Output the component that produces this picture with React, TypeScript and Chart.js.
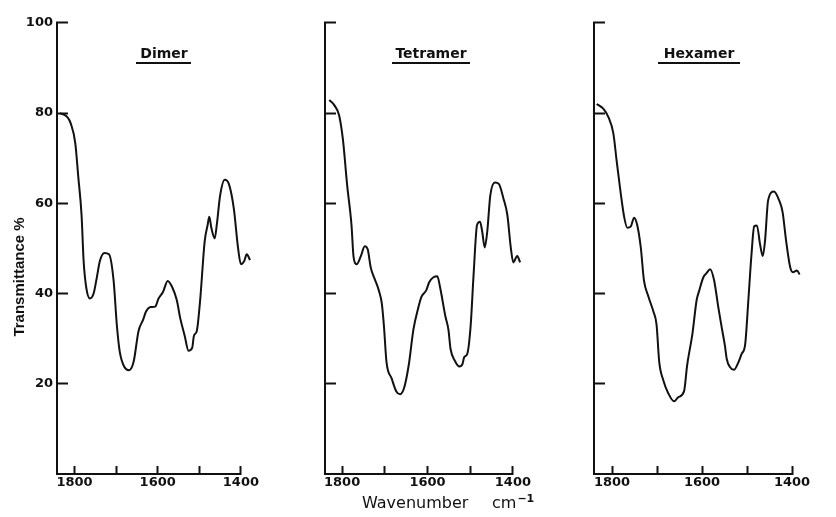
import React, { useEffect, useRef } from "react";
import { Chart, registerables } from "chart.js";

Chart.register(...registerables);

// ---- data ----
const WAVENUMBER_TICKS = [1800, 1700, 1600, 1500, 1400];
const WAVENUMBER_LABELS = [1800, 1600, 1400];
const TRANSMITTANCE_TICKS = [20, 40, 60, 80, 100];
const TRANSMITTANCE_LABELS = [20, 40, 60, 80, 100];

const dimerWavenumber = [1835, 1817, 1809, 1798, 1791, 1783, 1778, 1772, 1763, 1754, 1746, 1739, 1728, 1717, 1706, 1698, 1691, 1680, 1669, 1658, 1646, 1635, 1628, 1617, 1606, 1598, 1587, 1576, 1565, 1554, 1546, 1535, 1526, 1517, 1513, 1506, 1498, 1487, 1480, 1476, 1471, 1463, 1458, 1450, 1439, 1429, 1417, 1407, 1400, 1392, 1386, 1378];
const dimerTransmittance = [80, 79.1, 77.7, 73.3, 66, 57.4, 47.2, 41.5, 38.9, 40, 43.7, 47.2, 49, 48.7, 42.9, 32.8, 27, 23.7, 23, 24.8, 31.7, 34.2, 36, 37, 37.1, 38.9, 40.4, 42.8, 41.4, 38.5, 34.6, 30.6, 27.3, 28, 30.6, 31.7, 38.5, 51.6, 55.2, 57, 54.5, 52.2, 55.2, 61.7, 65.2, 64.3, 58.8, 50.2, 46.5, 47.2, 48.7, 47.4];

const tetramerWavenumber = [1830, 1818, 1807, 1798, 1788, 1778, 1773, 1766, 1756, 1747, 1740, 1733, 1724, 1714, 1707, 1702, 1696, 1684, 1673, 1664, 1655, 1644, 1633, 1622, 1614, 1603, 1596, 1586, 1577, 1570, 1558, 1551, 1546, 1536, 1525, 1518, 1514, 1507, 1499, 1492, 1484, 1477, 1472, 1466, 1460, 1453, 1442, 1433, 1422, 1413, 1405, 1399, 1390, 1383];
const tetramerTransmittance = [82.9, 81.7, 79.5, 74.1, 63.9, 55.2, 48, 46.5, 48.3, 50.5, 49.8, 45.8, 43.3, 40.7, 37.8, 32.8, 24.8, 21.2, 18.3, 17.7, 19, 24.1, 32, 36.7, 39.3, 40.7, 42.5, 43.6, 43.8, 41.1, 34.9, 32, 27.7, 25.1, 23.8, 24.4, 25.9, 26.6, 32.8, 44.3, 55.2, 55.9, 53.8, 50.2, 53.8, 61.7, 64.6, 64.3, 61, 57.4, 50.2, 46.9, 48.3, 46.9];

const hexamerWavenumber = [1834, 1819, 1808, 1797, 1790, 1781, 1773, 1766, 1758, 1751, 1744, 1736, 1729, 1719, 1708, 1701, 1695, 1686, 1675, 1662, 1653, 1640, 1633, 1621, 1612, 1606, 1597, 1590, 1582, 1573, 1564, 1556, 1549, 1545, 1538, 1529, 1519, 1512, 1504, 1497, 1490, 1484, 1478, 1471, 1465, 1460, 1453, 1440, 1430, 1421, 1413, 1404, 1398, 1389, 1383];
const hexamerTransmittance = [82, 80.9, 79.1, 75.5, 69.7, 62.5, 57, 54.6, 54.9, 56.8, 55.2, 50.2, 42.9, 39.3, 36, 33.1, 24.8, 20.8, 17.9, 16.1, 17, 18.3, 24.1, 31.3, 38.5, 40.7, 43.6, 44.5, 45.4, 42.9, 37.1, 32.4, 28.4, 25.5, 23.7, 23.1, 24.8, 26.6, 28.8, 38.5, 48.7, 54.9, 55.1, 50.9, 48.3, 51.6, 60.7, 62.6, 61, 58.1, 51.6, 45.8, 44.7, 45.1, 44.2];

const Y_TITLE = "Transmittance %";
const X_TITLE = "Wavenumber";
const X_UNIT = "cm";
const X_UNIT_SUP = "\u22121";

// ---- layout ----
const H = 517;
const INK = "#111111";

type PanelDef = {
  name: string;
  wn: number[];
  tr: number[];
  left: number;
  width: number;
  xMax: number;
  titleX: number;
  ulFrom: number;
  ulTo: number;
  showY: boolean;
  yTitle: boolean;
  xTitle: boolean;
};

const PANELS: PanelDef[] = [
  { name: "Dimer", wn: dimerWavenumber, tr: dimerTransmittance, left: 0, width: 268, xMax: 1842, titleX: 164, ulFrom: 136, ulTo: 191, showY: true, yTitle: true, xTitle: false },
  { name: "Tetramer", wn: tetramerWavenumber, tr: tetramerTransmittance, left: 268, width: 272, xMax: 1840, titleX: 431, ulFrom: 392, ulTo: 470, showY: false, yTitle: false, xTitle: true },
  { name: "Hexamer", wn: hexamerWavenumber, tr: hexamerTransmittance, left: 537, width: 299, xMax: 1840, titleX: 699, ulFrom: 658, ulTo: 740, showY: false, yTitle: false, xTitle: false },
];

const Y_AXIS_W = 57;
const X_AXIS_H = 43;
const TOP_PAD = 14;

function Panel({ p }: { p: PanelDef }) {
  const ref = useRef<HTMLCanvasElement>(null);
  useEffect(() => {
    const canvas = ref.current!;
    const rightEdge: Record<string, number> = { Dimer: 256, Tetramer: 523, Hexamer: 792 };
    const rightPad = p.left + p.width - rightEdge[p.name];

    const textPlugin = {
      id: "panelText",
      afterDraw(chart: any) {
        const ctx = chart.ctx as CanvasRenderingContext2D;
        const ox = p.left;
        ctx.save();
        ctx.fillStyle = INK;
        ctx.strokeStyle = INK;
        // panel title with underline
        ctx.font = "bold 14px 'DejaVu Sans'";
        ctx.textAlign = "center";
        ctx.textBaseline = "alphabetic";
        ctx.fillText(p.name, p.titleX - ox, 58);
        ctx.lineWidth = 2;
        ctx.beginPath();
        ctx.moveTo(p.ulFrom - ox, 63);
        ctx.lineTo(p.ulTo - ox, 63);
        ctx.stroke();
        if (p.yTitle) {
          ctx.save();
          ctx.translate(20 - ox, 277);
          ctx.rotate(-Math.PI / 2);
          ctx.font = "bold 15px 'Liberation Sans'";
          ctx.textAlign = "center";
          ctx.textBaseline = "middle";
          ctx.fillText(Y_TITLE, 0, 0);
          ctx.restore();
        }
        if (p.xTitle) {
          ctx.font = "16px 'DejaVu Sans'";
          ctx.textAlign = "left";
          ctx.textBaseline = "alphabetic";
          ctx.fillText(X_TITLE, 362 - ox, 508);
          ctx.fillText(X_UNIT, 492 - ox, 508);
          const w = ctx.measureText(X_UNIT).width;
          ctx.font = "bold 11px 'DejaVu Sans'";
          ctx.fillText(X_UNIT_SUP, 492 - ox + w + 1, 502);
        }
        ctx.restore();
      },
    };

    const chart = new Chart(canvas, {
      type: "line",
      data: {
        datasets: [
          {
            label: p.name,
            data: p.wn.map((x, i) => ({ x, y: p.tr[i] })),
            borderColor: INK,
            borderWidth: 2,
            pointRadius: 0,
            fill: false,
            tension: 0.4,
            cubicInterpolationMode: "monotone",
            clip: false as any,
          },
        ],
      },
      options: {
        animation: false,
        responsive: false,
        devicePixelRatio: 1,
        layout: { padding: { top: TOP_PAD, right: rightPad, bottom: 0, left: 0 } },
        plugins: { legend: { display: false }, tooltip: { enabled: false }, title: { display: false } },
        scales: {
          x: {
            type: "linear",
            reverse: true,
            min: 1400,
            max: p.xMax,
            afterBuildTicks: (s: any) => {
              s.ticks = WAVENUMBER_TICKS.map((v) => ({ value: v }));
            },
            afterFit: (s: any) => {
              s.height = X_AXIS_H;
            },
            border: { display: true, color: INK, width: 2 },
            grid: { display: true, drawOnChartArea: false, drawTicks: true, tickLength: -8, tickColor: INK, tickWidth: 2 },
            ticks: {
              autoSkip: false,
              maxRotation: 0,
              padding: 9,
              color: INK,
              font: { family: "'DejaVu Sans'", size: 13, weight: "bold" },
              callback: (v: any) => (WAVENUMBER_LABELS.includes(Number(v)) ? String(v) : ""),
            },
          },
          y: {
            type: "linear",
            min: 0,
            max: 100,
            afterBuildTicks: (s: any) => {
              s.ticks = TRANSMITTANCE_TICKS.map((v) => ({ value: v }));
            },
            afterFit: (s: any) => {
              s.width = Y_AXIS_W;
            },
            border: { display: true, color: INK, width: 2 },
            grid: { display: true, drawOnChartArea: false, drawTicks: true, tickLength: -11, tickColor: INK, tickWidth: 2 },
            ticks: {
              autoSkip: false,
              padding: 15,
              color: INK,
              font: { family: "'DejaVu Sans'", size: 13, weight: "bold" },
              callback: (v: any) => (p.showY && TRANSMITTANCE_LABELS.includes(Number(v)) ? String(v) : ""),
            },
          },
        },
      },
      plugins: [textPlugin],
    } as any);
    return () => chart.destroy();
  }, []);
  return (
    <canvas
      ref={ref}
      width={p.width}
      height={H}
      style={{ position: "absolute", left: p.left, top: 0, width: p.width, height: H }}
    />
  );
}

export default function App() {
  return (
    <div style={{ position: "absolute", left: 0, top: 0, width: 836, height: H, background: "#ffffff", overflow: "hidden" }}>
      {PANELS.map((p) => (
        <Panel key={p.name} p={p} />
      ))}
    </div>
  );
}
